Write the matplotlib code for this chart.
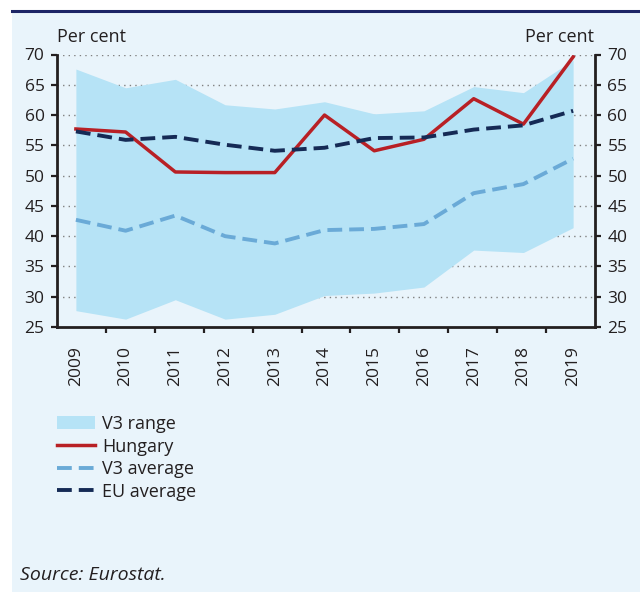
import matplotlib
matplotlib.use("Agg")
import matplotlib.pyplot as plt
from matplotlib.patches import Rectangle
from matplotlib.lines import Line2D

plt.rcParams['font.family'] = ['Open Sans', 'DejaVu Sans']

years = ['2009', '2010', '2011', '2012', '2013', '2014', '2015', '2016', '2017', '2018', '2019']
v3_low = [27.7, 26.3, 29.5, 26.3, 27.1, 30.2, 30.6, 31.6, 37.7, 37.3, 41.4]
v3_high = [67.6, 64.5, 65.9, 61.7, 61.0, 62.2, 60.2, 60.7, 64.7, 63.7, 69.1]
hungary = [57.7, 57.2, 50.6, 50.5, 50.5, 60.0, 54.1, 56.0, 62.7, 58.5, 69.6]
v3_avg = [42.7, 40.9, 43.4, 40.0, 38.8, 41.0, 41.2, 42.0, 47.1, 48.6, 52.8]
eu_avg = [57.3, 55.9, 56.4, 55.1, 54.1, 54.6, 56.2, 56.3, 57.6, 58.3, 60.7]

bg = '#e9f4fb'
txt = '#231f20'

fig = plt.figure(figsize=(6.4, 5.92), dpi=100)
fig.patches.append(Rectangle((12 / 640, 0), 1, 1 - 11 / 592, transform=fig.transFigure,
                             facecolor=bg, edgecolor='none', zorder=-10))
fig.add_artist(Line2D([12 / 640, 1], [1 - 10.5 / 592] * 2, color='#1c2566', lw=2.2))

ax = fig.add_axes([57 / 640, 1 - 327 / 592, 538 / 640, 272.5 / 592])
ax.set_facecolor('none')
x = list(range(len(years)))

ax.fill_between(x, v3_low, v3_high, color='#b6e3f6', lw=0, label='V3 range', zorder=1)
ax.plot(x, hungary, color='#b82025', lw=2.5, label='Hungary', zorder=4)
ax.plot(x, v3_avg, color='#6aaad7', lw=2.8, dashes=(3.8, 1.8), label='V3 average', zorder=3)
ax.plot(x, eu_avg, color='#152a55', lw=2.8, dashes=(3.8, 1.8), label='EU average', zorder=5)

x0, x1 = -0.38, 10.44
ax.set_xlim(x0, x1)
ax.set_ylim(25, 70)
ax.set_yticks(range(25, 71, 5))
for v in range(30, 71, 5):
    ax.axhline(v, color='#808080', lw=1, ls=(0, (1, 3)), zorder=0)

ax.set_xticks(x)
ax.set_xticklabels(years, rotation=90, va='top')
ax.set_xticks([x0 + (x1 - x0) * k / 11 for k in range(1, 11)], minor=True)
ax.tick_params(axis='x', which='major', length=0, pad=14, labelsize=12.5, colors=txt)
ax.tick_params(axis='x', which='minor', length=4.5, width=1.6, direction='out', color=txt)
ax.tick_params(axis='y', length=4, width=1.6, direction='out', labelsize=12.5, colors=txt,
               left=True, right=True, labelleft=True, labelright=True, pad=5)

ax.spines['top'].set_visible(False)
for s in ['left', 'right', 'bottom']:
    ax.spines[s].set_linewidth(2)
    ax.spines[s].set_color(txt)

fig.text(57 / 640, 1 - 37 / 592, 'Per cent', fontsize=13, color=txt, va='center', ha='left')
fig.text(594 / 640, 1 - 37 / 592, 'Per cent', fontsize=13, color=txt, va='center', ha='right')

h, l = ax.get_legend_handles_labels()
leg = fig.legend(h, l, loc='upper left', bbox_to_anchor=(57 / 640, 1 - 415 / 592),
                 frameon=False, fontsize=13, handlelength=2.1, handletextpad=0.4,
                 labelspacing=0.25, borderaxespad=0, borderpad=0)
for t in leg.get_texts():
    t.set_color(txt)

fig.text(20 / 640, 1 - 575 / 592, 'Source: Eurostat.', fontsize=14, style='italic',
         color=txt, va='center', ha='left')

fig.savefig('out.png', dpi=100)
